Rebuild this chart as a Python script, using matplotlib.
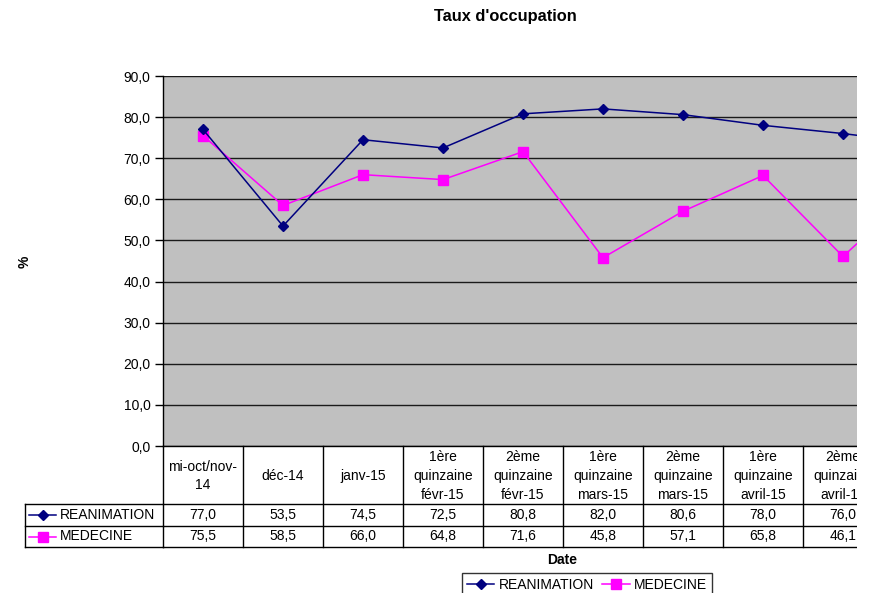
import matplotlib
matplotlib.use("Agg")
import matplotlib.pyplot as plt
from matplotlib.lines import Line2D
from matplotlib.patches import Rectangle
from matplotlib.ticker import FuncFormatter
import matplotlib.transforms as mtrans

plt.rcParams["font.family"] = ["Liberation Sans", "DejaVu Sans"]

categories = [
    "mi-oct/nov-\n14",
    "déc-14",
    "janv-15",
    "1ère\nquinzaine\nfévr-15",
    "2ème\nquinzaine\nfévr-15",
    "1ère\nquinzaine\nmars-15",
    "2ème\nquinzaine\nmars-15",
    "1ère\nquinzaine\navril-15",
    "2ème\nquinzaine\navril-15",
    "1ère\nquinzaine\nmai-15",
]
reanimation = [77.0, 53.5, 74.5, 72.5, 80.8, 82.0, 80.6, 78.0, 76.0, 73.6]
medecine = [75.5, 58.5, 66.0, 64.8, 71.6, 45.8, 57.1, 65.8, 46.1, 64.0]
series_names = ["REANIMATION", "MEDECINE"]
yticks = [0, 10, 20, 30, 40, 50, 60, 70, 80, 90]

W, H = 873, 593
fig = plt.figure(figsize=(W / 100, H / 100), dpi=100)

def fx(px):
    return px / W

def fy(py):
    return 1 - py / H

n = len(categories)
col_w = 80
left, top, bottom = 163, 76, 446
ax = fig.add_axes([fx(left), fy(bottom), fx(col_w * n), (bottom - top) / H])
ax.set_facecolor("#C0C0C0")
ax.set_xlim(0, n)
ax.set_ylim(0, 90)

xs = [i + 0.5 for i in range(n)]
rea_style = dict(color="#000080", marker="D", markersize=5, linewidth=1.1)
med_style = dict(color="#FF00FF", marker="s", markersize=6.5, linewidth=1.1)
ax.plot(xs, reanimation, zorder=4, **rea_style)
ax.plot(xs, medecine, zorder=3, **med_style)

fs = 10
ax.set_yticks(yticks)
ax.yaxis.set_major_formatter(FuncFormatter(lambda v, p: f"{v:.1f}".replace(".", ",")))
ax.tick_params(axis="y", direction="out", length=6, width=1, pad=3, labelsize=fs, colors="black")
ax.set_xticks([])
ax.grid(axis="y", color="#1a1a1a", linewidth=1)
ax.set_axisbelow(True)
for s in ["top", "right", "bottom"]:
    ax.spines[s].set_visible(False)
ax.spines["left"].set_color("black")
ax.spines["left"].set_linewidth(1)

# data table below the plot area: x in data units, y in figure fraction
bt = mtrans.blended_transform_factory(ax.transData, fig.transFigure)
row_y = [446, 504, 526, 547]
lw = 1
line_kw = dict(color="black", linewidth=lw, transform=bt, clip_on=False)
for y in row_y:
    ax.add_line(Line2D([0, n], [fy(y), fy(y)], **line_kw))
for i in range(n + 1):
    ax.add_line(Line2D([i, i], [fy(446), fy(547)], **line_kw))

tf = fig.transFigure
for y in row_y[1:]:
    fig.add_artist(Line2D([fx(25), fx(left)], [fy(y), fy(y)], color="black", linewidth=lw))
fig.add_artist(Line2D([fx(25), fx(25)], [fy(504), fy(547)], color="black", linewidth=lw))

for i, lab in enumerate(categories):
    ax.text(xs[i], fy(476), lab, transform=bt, ha="center", va="center",
            fontsize=fs, linespacing=1.42, clip_on=False)
    ax.text(xs[i], fy(515), f"{reanimation[i]:.1f}".replace(".", ","), transform=bt,
            ha="center", va="center", fontsize=fs, clip_on=False)
    ax.text(xs[i], fy(536.5), f"{medecine[i]:.1f}".replace(".", ","), transform=bt,
            ha="center", va="center", fontsize=fs, clip_on=False)

# series keys in the table's row headers
for (yc, name, st) in [(515, series_names[0], rea_style), (536.5, series_names[1], med_style)]:
    fig.add_artist(Line2D([fx(29), fx(56)], [fy(yc), fy(yc)], color=st["color"], linewidth=st["linewidth"]))
    fig.add_artist(Line2D([fx(42.5)], [fy(yc)], color=st["color"], marker=st["marker"],
                          markersize=st["markersize"], linestyle="none"))
    fig.text(fx(60), fy(yc), name, ha="left", va="center", fontsize=fs)

# titles
fig.text(fx(505), fy(16), "Taux d'occupation", ha="center", va="center", fontsize=11.8, fontweight="bold")
fig.text(fx(25), fy(262), "%", ha="center", va="center", fontsize=fs, fontweight="bold", rotation=90)
fig.text(fx(562), fy(560), "Date", ha="center", va="center", fontsize=fs, fontweight="bold")

# legend
handles = [Line2D([], [], **rea_style), Line2D([], [], **med_style)]
leg = fig.legend(handles, series_names, loc="upper center", bbox_to_anchor=(fx(587), fy(573)),
                 ncol=2, frameon=True, fancybox=False, edgecolor="black", fontsize=fs,
                 handlelength=2.0, handletextpad=0.3, columnspacing=0.6, borderpad=0.35,
                 borderaxespad=0)
leg.get_frame().set_linewidth(1)

# right margin covering the overflow of the plot area and table
fig.add_artist(Rectangle((fx(857), 0), 1 - fx(857), 1, transform=tf, facecolor="white",
                         edgecolor="none", zorder=50))

fig.savefig("out.png", dpi=100, facecolor="white")
